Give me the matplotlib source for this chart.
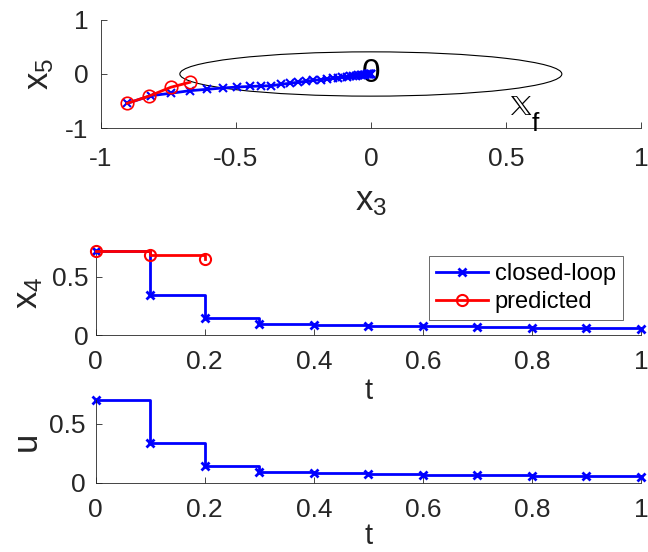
import matplotlib.pyplot as plt
from matplotlib.patches import Ellipse

plt.rcParams["font.family"] = ["Liberation Sans", "DejaVu Sans"]
plt.rcParams["mathtext.default"] = "regular"

# Phase plane (x3, x5): closed-loop trajectory and predicted trajectory
x3_closed = [-0.902, -0.815, -0.741, -0.670, -0.605, -0.548, -0.494, -0.449, -0.406,
             -0.369, -0.332, -0.301, -0.271, -0.240, -0.213, -0.185, -0.162, -0.141,
             -0.122, -0.105, -0.090, -0.077, -0.065, -0.055, -0.046, -0.038, -0.031,
             -0.025, -0.020, -0.015, -0.011, -0.008, -0.005, -0.003, -0.001, 0.0]
x5_closed = [-0.543, -0.402, -0.357, -0.309, -0.283, -0.259, -0.241, -0.231, -0.222,
             -0.217, -0.191, -0.172, -0.154, -0.135, -0.117, -0.106, -0.093, -0.081,
             -0.070, -0.060, -0.052, -0.044, -0.037, -0.031, -0.026, -0.022, -0.018,
             -0.014, -0.011, -0.009, -0.006, -0.005, -0.003, -0.002, -0.001, 0.0]
x3_pred = [-0.902, -0.820, -0.741, -0.670]
x5_pred = [-0.543, -0.407, -0.246, -0.154]
# terminal set ellipse
xf_center = (0.0, 0.0)
xf_semi_x = 0.707
xf_semi_y = 0.41

# Time series
t = [0.0, 0.1, 0.2, 0.3, 0.4, 0.5, 0.6, 0.7, 0.8, 0.9, 1.0]
x4_closed = [0.72, 0.345, 0.149, 0.095, 0.086, 0.080, 0.075, 0.066, 0.063, 0.058, 0.054]
t_pred = [0.0, 0.1, 0.2]
x4_pred = [0.72, 0.684, 0.652]
u_closed = [0.70, 0.336, 0.144, 0.090, 0.082, 0.079, 0.070, 0.065, 0.062, 0.057, 0.054]

t_ticks = [0, 0.2, 0.4, 0.6, 0.8, 1]
t_ticklabels = ["0", "0.2", "0.4", "0.6", "0.8", "1"]

DARK = "#262626"
TICK_FS = 19
LEGEND_FS = 17
LABEL_FS = 25
T_FS = 21


def style_axes(ax, xpad, ypad):
    ax.spines["top"].set_visible(False)
    ax.spines["right"].set_visible(False)
    for side in ("left", "bottom"):
        ax.spines[side].set_color(DARK)
        ax.spines[side].set_linewidth(0.6)
    ax.tick_params(direction="in", length=4, width=0.6, colors=DARK,
                   labelsize=TICK_FS)
    ax.tick_params(axis="x", pad=xpad)
    ax.tick_params(axis="y", pad=ypad)


fig = plt.figure(figsize=(6.48, 5.52), dpi=100)

# --- top: phase plane ---
ax1 = fig.add_axes([0.1554, 0.7681, 0.8338, 0.1957])
ax1.add_patch(Ellipse(xf_center, 2 * xf_semi_x, 2 * xf_semi_y, fill=False,
                      edgecolor="black", linewidth=0.8))
ax1.text(0.0, 0.0, "0", fontsize=24, ha="center", va="center",
         color="black", zorder=2)
ax1.plot(x3_closed, x5_closed, "-x", color="blue", linewidth=2,
         markersize=6, markeredgewidth=1.5, zorder=3)
ax1.plot(x3_pred, x5_pred, "-o", color="red", linewidth=2, markersize=9,
         markerfacecolor="none", markeredgewidth=1.2, zorder=4)
ax1.text(0.51, -0.76, r"$\mathbb{X}$", math_fontfamily="dejavusans",
         fontsize=21, color="black", clip_on=False)
ax1.text(0.595, -1.05, "f", fontsize=19, color="black", clip_on=False)
ax1.set_xlim(-1, 1)
ax1.set_ylim(-1, 1)
ax1.set_xticks([-1, -0.5, 0, 0.5, 1])
ax1.set_xticklabels(["-1", "-0.5", "0", "0.5", "1"])
ax1.set_yticks([-1, 0, 1])
ax1.set_yticklabels(["-1", "0", "1"])
style_axes(ax1, xpad=14, ypad=9)
ax1.set_xlabel("$x_3$", fontsize=LABEL_FS, color=DARK, labelpad=10)
ax1.set_ylabel("$x_5$", fontsize=LABEL_FS, color=DARK, labelpad=6)

# --- middle: x4 over time ---
ax2 = fig.add_axes([0.1477, 0.3931, 0.8415, 0.1522])
ax2.plot(t, x4_closed, "-x", drawstyle="steps-post", color="blue",
         linewidth=2, markersize=6, markeredgewidth=2, label="closed-loop",
         clip_on=False, zorder=3)
ax2.plot(t_pred, x4_pred, "-o", drawstyle="steps-post", color="red",
         linewidth=2, markersize=8, markerfacecolor="none",
         markeredgewidth=1.5, label="predicted", clip_on=False, zorder=4)
ax2.set_xlim(0, 1)
ax2.set_ylim(0, 0.72)
ax2.set_xticks(t_ticks)
ax2.set_xticklabels(t_ticklabels)
ax2.set_yticks([0, 0.5])
ax2.set_yticklabels(["0", "0.5"])
style_axes(ax2, xpad=11, ypad=5)
ax2.set_xlabel("t", fontsize=T_FS, color=DARK, labelpad=2)
ax2.set_ylabel("$x_4$", fontsize=LABEL_FS, color=DARK, labelpad=5)
leg = ax2.legend(loc="upper right", bbox_to_anchor=(0.967, 0.94),
                 fontsize=LEGEND_FS, frameon=True, fancybox=False,
                 handlelength=2.2, borderpad=0.3, labelspacing=0.25,
                 handletextpad=0.3, borderaxespad=0)
leg.get_frame().set_edgecolor(DARK)
leg.get_frame().set_linewidth(0.6)

# --- bottom: u over time ---
ax3 = fig.add_axes([0.1477, 0.125, 0.8415, 0.1504])
ax3.plot(t, u_closed, "-x", drawstyle="steps-post", color="blue",
         linewidth=2, markersize=6, markeredgewidth=2, clip_on=False)
ax3.set_xlim(0, 1)
ax3.set_ylim(0, 0.70)
ax3.set_xticks(t_ticks)
ax3.set_xticklabels(t_ticklabels)
ax3.set_yticks([0, 0.5])
ax3.set_yticklabels(["0", "0.5"])
style_axes(ax3, xpad=11, ypad=7)
ax3.set_xlabel("t", fontsize=T_FS, color=DARK, labelpad=0)
ax3.set_ylabel("u", fontsize=LABEL_FS, color=DARK, labelpad=5)

fig.savefig("out.png", dpi=100)
